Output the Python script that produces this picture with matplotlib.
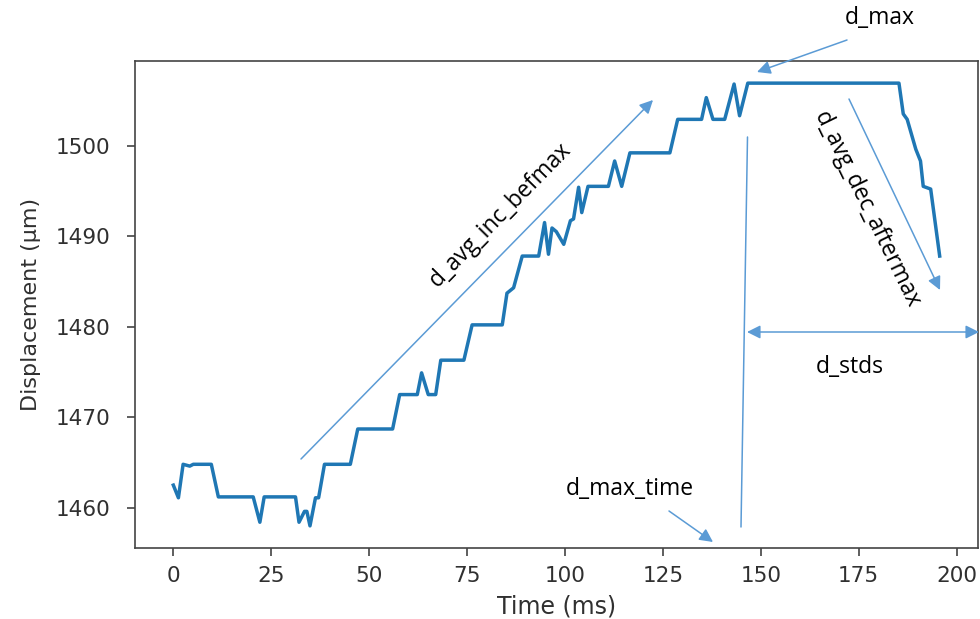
import numpy as np
import matplotlib
matplotlib.use('Agg')
import matplotlib.pyplot as plt

# vertices of the displacement trace
time_ms = [0, 1.3, 2.5, 4.2, 5.1, 9.7, 11.5, 20.4, 22.1, 23.2, 31.2, 32.1, 33.5,
           34.1, 34.9, 36.3, 37.1, 38.6, 45.2, 47.1, 56.0, 57.8, 62.3, 63.4, 65.1,
           67.0, 68.3, 74.2, 76.3, 84.0, 85.2, 86.9, 89.1, 93.3, 94.8, 95.8, 96.7,
           97.8, 99.7, 101.4, 102.2, 103.5, 104.3, 105.9, 111.1, 112.7, 114.5,
           116.6, 126.8, 128.8, 134.9, 136.1, 137.8, 140.8, 143.2, 144.6, 146.7,
           185.3, 186.4, 187.4, 189.6, 190.8, 191.5, 193.4, 195.7]
disp_um = [1462.5, 1461.1, 1464.8, 1464.6, 1464.8, 1464.8, 1461.2, 1461.2, 1458.4,
           1461.2, 1461.2, 1458.4, 1459.6, 1459.6, 1458.0, 1461.1, 1461.1, 1464.8,
           1464.8, 1468.7, 1468.7, 1472.5, 1472.5, 1474.9, 1472.5, 1472.5, 1476.3,
           1476.3, 1480.2, 1480.2, 1483.7, 1484.3, 1487.8, 1487.8, 1491.5, 1488.0,
           1490.9, 1490.5, 1489.1, 1491.7, 1491.9, 1495.4, 1492.6, 1495.5, 1495.5,
           1498.3, 1495.5, 1499.2, 1499.2, 1502.9, 1502.9, 1505.3, 1502.9, 1502.9,
           1506.8, 1503.3, 1506.9, 1506.9, 1503.5, 1502.9, 1499.6, 1498.3, 1495.5,
           1495.2, 1487.8]

W, H = 980, 619
ann_color = '#5B9BD5'
ann_font = ['Open Sans', 'DejaVu Sans']
ann_size = 16.5


def px(x, y):
    # pixel position (top-left origin) -> figure fraction
    return (x / W, 1 - y / H)


fig = plt.figure(figsize=(W / 100, H / 100), dpi=100)
ax = fig.add_axes([135 / W, 1 - 548 / H, (978 - 135) / W, (548 - 61) / H])

ax.plot(time_ms, disp_um, color='#1f77b4', lw=2.5)
ax.set_xlabel('Time (ms)', fontsize=17, color='#303030', labelpad=6)
ax.set_ylabel('Displacement (μm)', fontsize=16, color='#303030', labelpad=10)
ax.tick_params(axis='both', labelsize=15.5, length=6, width=1.1,
               colors='#333333', labelcolor='#303030')
ax.tick_params(axis='y', pad=12)
ax.tick_params(axis='x', pad=7)
for s in ax.spines.values():
    s.set_linewidth(1.2)
    s.set_color('#444444')

# overlay annotations
def arrow(start, end, style='-|>'):
    fig.add_artist(matplotlib.patches.FancyArrowPatch(
        px(*start), px(*end), transform=fig.transFigure,
        arrowstyle=style, mutation_scale=20, color=ann_color, lw=1.1,
        shrinkA=0, shrinkB=0))


def label(x, y, s, rot=0):
    fig.text(*px(x, y), s, ha='center', va='center', rotation=rot,
             rotation_mode='anchor', fontsize=ann_size, family=ann_font,
             color='black')


label(880, 18, 'd_max')
arrow((847, 40), (757, 72))

arrow((301, 459), (653, 100))
label(500, 215, 'd_avg_inc_befmax', rot=45.6)

arrow((747.5, 137), (741, 527), style='-')

label(630, 489, 'd_max_time')
arrow((669, 511), (713, 542))

arrow((747, 332), (979, 332), style='<|-|>')
label(850, 367, 'd_stds')

arrow((849, 99), (940, 290))
label(867, 210, 'd_avg_dec_aftermax', rot=-64)

fig.savefig('out.png', dpi=100)
